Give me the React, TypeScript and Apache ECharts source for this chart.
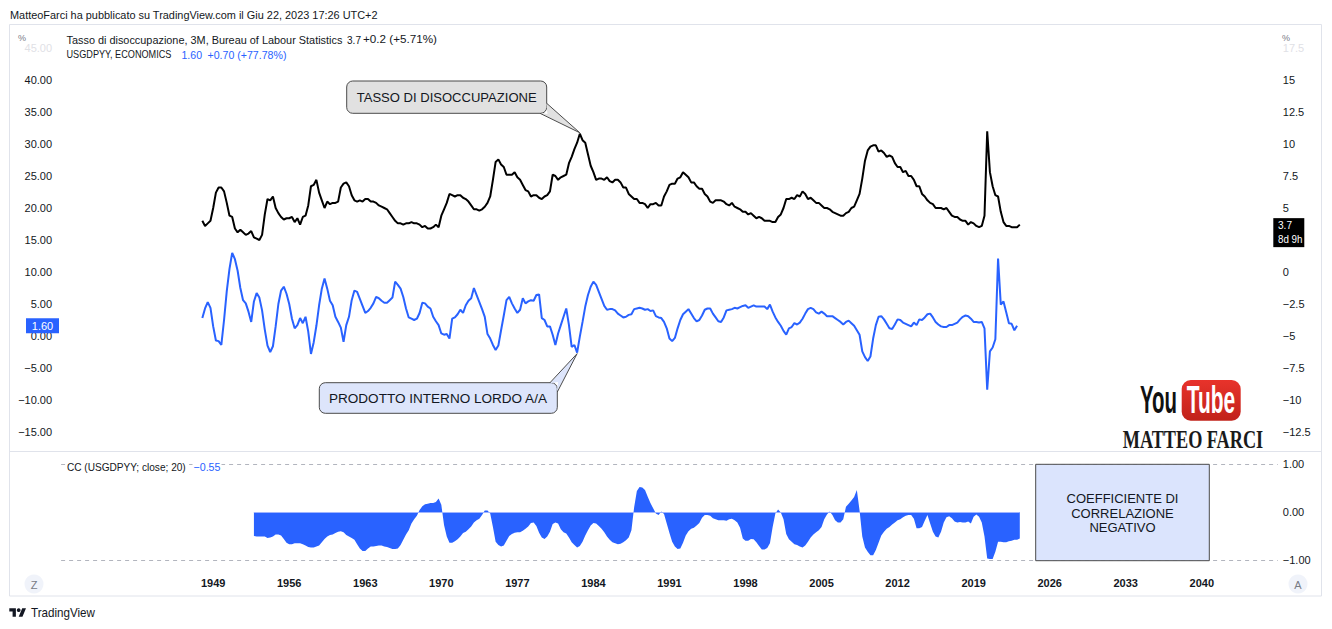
import React, { useEffect, useRef } from "react";
import * as echarts from "echarts";

// ---------------- DATA ----------------
const FIRST_YEAR = 1948; // first quarter of the series = 1948 Q1
const AXIS_BASE_YEAR = 1949;
const YEAR_TICKS = [1949, 1956, 1963, 1970, 1977, 1984, 1991, 1998, 2005, 2012, 2019, 2026, 2033, 2040];
const LEFT_TICKS = [-15, -10, -5, 0, 5, 10, 15, 20, 25, 30, 35, 40];
const LEFT_FADED = [45];
const RIGHT_TICKS = [-12.5, -10, -7.5, -5, -2.5, 0, 5, 7.5, 10, 12.5, 15];
const RIGHT_FADED = [17.5];
const CC_TICKS = [-1, 0, 1];

// Tasso di disoccupazione (%), quarterly close
const UNEMPLOYMENT: number[] = [
  4.0, 3.6, 3.8, 4.0, // 1948
  5.0, 6.2, 6.6, 6.6,
  6.3, 5.4, 4.4, 4.3, // 1950
  3.4, 3.1, 3.3, 3.1,
  2.9, 3.0, 3.2, 2.7,
  2.6, 2.5, 2.9, 4.5,
  5.7, 5.6, 5.9, 5.0,
  4.6, 4.3, 4.1, 4.2, // 1955
  4.2, 4.3, 3.9, 4.2,
  3.7, 4.3, 4.4, 5.2,
  6.7, 6.8, 7.2, 6.2,
  5.6, 5.0, 5.5, 5.3,
  5.4, 5.4, 5.5, 6.6, // 1960
  6.9, 7.0, 6.7, 6.0,
  5.6, 5.5, 5.6, 5.5,
  5.7, 5.7, 5.5, 5.5,
  5.4, 5.2, 5.1, 5.0,
  4.9, 4.6, 4.3, 4.0, // 1965
  3.8, 3.8, 3.7, 3.8,
  3.8, 3.9, 3.8, 3.8,
  3.7, 3.5, 3.6, 3.4,
  3.4, 3.5, 3.7, 3.5,
  4.4, 4.9, 5.4, 6.1, // 1970
  6.0, 5.9, 6.0, 6.0,
  5.8, 5.7, 5.5, 5.2,
  4.9, 4.9, 4.8, 4.9,
  5.1, 5.4, 5.9, 7.2,
  8.6, 8.8, 8.4, 8.2, // 1975
  7.6, 7.6, 7.6, 7.8,
  7.4, 7.2, 6.8, 6.4,
  6.3, 5.9, 6.0, 6.0,
  5.8, 5.7, 5.9, 6.0,
  6.3, 7.6, 7.5, 7.2, // 1980
  7.4, 7.5, 7.6, 8.5,
  9.0, 9.6, 10.1, 10.8,
  10.3, 10.1, 9.2, 8.3,
  7.8, 7.2, 7.3, 7.3,
  7.2, 7.4, 7.1, 7.0, // 1985
  7.2, 7.2, 7.0, 6.6,
  6.6, 6.1, 5.9, 5.7,
  5.7, 5.4, 5.4, 5.3,
  5.0, 5.3, 5.3, 5.4,
  5.2, 5.2, 5.9, 6.3, // 1990
  6.8, 6.9, 6.9, 7.3,
  7.4, 7.8, 7.6, 7.4,
  7.0, 7.0, 6.7, 6.5,
  6.5, 6.1, 5.9, 5.5,
  5.4, 5.6, 5.6, 5.6, // 1995
  5.5, 5.3, 5.2, 5.4,
  5.1, 5.0, 4.9, 4.7,
  4.7, 4.5, 4.6, 4.4,
  4.2, 4.3, 4.2, 4.0,
  4.0, 4.0, 3.9, 3.9, // 2000
  4.3, 4.5, 5.0, 5.7,
  5.7, 5.8, 5.7, 6.0,
  5.9, 6.3, 6.1, 5.7,
  5.8, 5.6, 5.4, 5.4,
  5.2, 5.0, 5.0, 4.9, // 2005
  4.7, 4.6, 4.5, 4.4,
  4.4, 4.6, 4.7, 5.0,
  5.1, 5.6, 6.1, 7.3,
  8.7, 9.5, 9.8, 9.9,
  9.9, 9.4, 9.5, 9.3, // 2010
  9.0, 9.1, 9.0, 8.5,
  8.2, 8.2, 7.8, 7.9,
  7.5, 7.5, 7.2, 6.7,
  6.7, 6.1, 5.9, 5.6,
  5.4, 5.3, 5.0, 5.0, // 2015
  5.0, 4.9, 5.0, 4.7,
  4.4, 4.3, 4.3, 4.1,
  4.0, 4.0, 3.7, 3.9,
  3.8, 3.6, 3.5, 3.6,
  4.4, 11.0, 7.8, 6.7, // 2020
  6.0, 5.9, 4.7, 3.9,
  3.6, 3.6, 3.5, 3.5,
  3.5, 3.7, // 2023
];

// USGDPYY (%), quarterly
const GDP_YOY: number[] = [
  2.8, 4.3, 5.3, 4.4, // 1948
  1.5, -0.7, -0.8, -1.4,
  2.5, 7.0, 10.5, 13.0, // 1950
  12.0, 10.2, 7.5, 5.6,
  5.1, 3.8, 2.2, 5.4,
  6.7, 6.0, 4.0, 1.0,
  -1.5, -2.5, -1.6, 1.5,
  5.0, 7.1, 7.7, 6.6, // 1955
  5.0, 2.7, 1.2, 1.7,
  2.8, 2.0, 3.0, 0.7,
  -2.8, -1.0, 1.6, 4.8,
  7.4, 9.0, 7.4, 5.5,
  4.8, 3.0, 2.2, 1.3, // 1960
  -0.9, 1.7, 3.0, 5.6,
  7.1, 6.9, 5.8, 4.7,
  3.6, 3.9, 4.4, 5.1,
  6.1, 5.9, 5.5, 5.2,
  5.2, 5.6, 6.0, 8.5, // 1965
  8.0, 7.4, 6.1, 4.3,
  2.9, 2.7, 2.5, 2.7,
  3.6, 5.2, 5.1, 4.6,
  4.3, 3.0, 2.3, 1.7,
  0.4, 0.2, 0.3, -0.4, // 1970
  2.7, 2.9, 3.4, 4.1,
  3.6, 4.8, 5.5, 5.9,
  7.5, 6.4, 5.3, 4.2,
  3.0, 0.3, -0.4, -1.4,
  -2.2, -1.5, 0.9, 3.2, // 1975
  5.6, 6.1, 5.1, 4.3,
  3.6, 4.1, 5.9, 5.1,
  5.4, 5.6, 5.5, 6.4,
  6.5, 2.8, 2.5, 1.5,
  1.5, 0.2, -1.4, 0.4, // 1980
  1.7, 3.0, 4.3, 1.7,
  -1.7, -1.4, -2.6, -0.1,
  2.2, 4.6, 6.4, 7.7,
  8.5, 8.0, 6.9, 5.8,
  4.7, 4.1, 4.2, 4.2, // 1985
  4.0, 3.5, 3.2, 2.9,
  3.0, 3.3, 3.4, 4.2,
  4.3, 4.4, 4.3, 4.1,
  4.2, 3.9, 4.0, 3.1,
  2.9, 2.8, 2.2, 1.2, // 1990
  -0.4, -0.8, -0.3, 1.2,
  2.5, 3.4, 3.8, 4.2,
  3.5, 2.8, 2.3, 2.5,
  3.2, 4.1, 4.3, 4.3,
  3.5, 2.9, 2.3, 2.2, // 1995
  2.9, 4.0, 4.1, 4.2,
  4.4, 4.3, 4.5, 4.7,
  4.8, 4.4, 4.6, 4.8,
  4.6, 4.6, 4.6, 4.6,
  4.2, 4.9, 3.8, 2.9, // 2000
  2.2, 1.6, 0.8, 0.2,
  1.2, 1.4, 2.0, 1.8,
  2.1, 2.7, 3.5, 4.2,
  4.4, 4.2, 3.7, 3.5,
  3.8, 3.5, 3.1, 3.1, // 2005
  3.1, 2.8, 2.5, 2.2,
  1.8, 2.2, 2.4, 2.0,
  1.6, 0.9, 0.2, -2.4,
  -3.3, -3.9, -3.2, -0.4,
  1.7, 3.0, 3.1, 2.6, // 2010
  1.9, 1.2, 1.1, 1.8,
  2.6, 2.5, 2.1, 1.9,
  1.7, 1.5, 2.1, 1.7,
  2.6, 2.5, 2.9, 3.4,
  3.5, 2.9, 2.2, 1.8, // 2015
  1.5, 1.4, 1.4, 1.7,
  1.7, 1.9, 2.1, 2.6,
  3.0, 3.2, 3.1, 2.7,
  2.2, 2.2, 2.1, 2.2,
  1.2, -8.4, -2.4, -1.8, // 2020
  -0.5, 12.1, 4.9, 5.4,
  3.7, 2.0, 1.9, 0.9,
  1.6, // 2023
];

// CC (USGDPYY; close; 20), first value at 1952 Q4 (quarter index 19)
const CC_FIRST_INDEX = 19;
const CC_VALUES: number[] = [
  -0.50, // 1952 Q4
  -0.51, -0.51, -0.51, -0.51, // 1953
  -0.54, -0.53, -0.51, -0.47,
  -0.47, -0.49, -0.56, -0.64, // 1955
  -0.67, -0.67, -0.65, -0.65,
  -0.65, -0.67, -0.70, -0.73,
  -0.74, -0.74, -0.72, -0.70,
  -0.63, -0.56, -0.51, -0.48,
  -0.47, -0.44, -0.41, -0.40, // 1960
  -0.42, -0.48, -0.51, -0.54,
  -0.58, -0.67, -0.76, -0.81,
  -0.81, -0.76, -0.72, -0.72,
  -0.71, -0.70, -0.70, -0.72,
  -0.73, -0.75, -0.77, -0.77, // 1965
  -0.76, -0.69, -0.58, -0.47,
  -0.38, -0.24, -0.15, -0.08,
  0.04, 0.12, 0.16, 0.17,
  0.19, 0.19, 0.21, 0.28,
  0.15, -0.27, -0.51, -0.64, // 1970
  -0.64, -0.61, -0.57, -0.51,
  -0.44, -0.41, -0.36, -0.30,
  -0.22, -0.17, -0.14, -0.06,
  0.03, 0.03, -0.03, -0.31,
  -0.62, -0.69, -0.72, -0.70, // 1975
  -0.60, -0.50, -0.46, -0.43,
  -0.42, -0.42, -0.39, -0.35,
  -0.30, -0.23, -0.22, -0.29,
  -0.43, -0.53, -0.56, -0.51,
  -0.41, -0.25, -0.22, -0.24, // 1980
  -0.36, -0.42, -0.45, -0.53,
  -0.63, -0.69, -0.74, -0.71,
  -0.62, -0.49, -0.38, -0.28,
  -0.23, -0.24, -0.29, -0.35,
  -0.42, -0.51, -0.58, -0.63, // 1985
  -0.65, -0.67, -0.66, -0.63,
  -0.59, -0.53, -0.38, 0.10,
  0.44, 0.52, 0.51, 0.46,
  0.32, 0.19, 0.08, -0.03,
  -0.06, 0.01, -0.04, -0.24, // 1990
  -0.44, -0.62, -0.72, -0.77,
  -0.76, -0.64, -0.49, -0.40,
  -0.35, -0.33, -0.28, -0.23,
  -0.12, -0.06, -0.06, -0.08,
  -0.13, -0.15, -0.17, -0.17, // 1995
  -0.17, -0.18, -0.15, -0.14,
  -0.17, -0.22, -0.33, -0.55,
  -0.60, -0.60, -0.56, -0.57,
  -0.63, -0.71, -0.78, -0.78,
  -0.75, -0.65, -0.31, -0.03, // 2000
  0.05, -0.01, -0.15, -0.46,
  -0.57, -0.62, -0.67, -0.69,
  -0.72, -0.74, -0.70, -0.62,
  -0.53, -0.47, -0.42, -0.38,
  -0.31, -0.15, -0.05, 0.01, // 2005
  -0.06, -0.17, -0.22, -0.22,
  -0.15, 0.11, 0.17, 0.24,
  0.31, 0.46, 0.03, -0.51,
  -0.74, -0.83, -0.90, -0.90,
  -0.79, -0.64, -0.49, -0.41, // 2010
  -0.35, -0.31, -0.26, -0.22,
  -0.17, -0.15, -0.11, -0.08,
  -0.06, -0.06, -0.14, -0.34,
  -0.34, -0.31, -0.18, -0.06,
  -0.24, -0.41, -0.51, -0.53, // 2015
  -0.41, -0.22, -0.11, -0.09,
  -0.13, -0.20, -0.22, -0.21,
  -0.22, -0.22, -0.20, -0.24,
  -0.10, -0.05, -0.10, -0.22,
  -0.51, -0.97, -0.98, -0.98, // 2020
  -0.83, -0.62, -0.62, -0.63,
  -0.63, -0.61, -0.60, -0.58,
  -0.58, -0.55, // 2023
];

// --------------- STYLE ---------------
const FONT = '"Liberation Sans", Arial, Helvetica, sans-serif';
const SERIF = '"Liberation Serif", "Times New Roman", serif';
const TEXT = "#131722";
const BLUE = "#2962ff";
const MINUS = "\u2212";

echarts.graphic.registerShape(
  "tvlogo",
  echarts.graphic.extendPath("M14 22H7V11H0V4h14v18zM28 22h-8l7.5-18h8L28 22z", {})
);

const quarterX = (index: number) => FIRST_YEAR + index / 4 - AXIS_BASE_YEAR;
const minus = (s: string) => s.replace("-", MINUS);

const unData = UNEMPLOYMENT.map((v, i) => [quarterX(i), v]);
const gdpData = GDP_YOY.map((v, i) => [quarterX(i), v]);
const ccData = CC_VALUES.map((v, i) => [quarterX(i + CC_FIRST_INDEX), v]);

const hidden = { show: false };

let measureCtx: CanvasRenderingContext2D | null = null;
function measure(text: string, size: number, weight: string, family: string): number {
  if (!measureCtx) measureCtx = document.createElement("canvas").getContext("2d");
  if (!measureCtx) return 0;
  measureCtx.font = `${weight} ${size}px ${family}`;
  return measureCtx.measureText(text).width;
}

function buildOption(): any {
  const labelBase = { fontFamily: FONT, fontSize: 11, color: TEXT };
  return {
    animation: false,
    backgroundColor: "#ffffff",
    grid: [
      { left: 61.1, right: 54.2, top: 16, height: 448 },
      { left: 61.1, right: 54.2, top: 464, height: 96 },
    ],
    xAxis: [
      { type: "value", gridIndex: 0, min: -14, max: 98, show: false },
      {
        type: "value",
        gridIndex: 1,
        min: -14,
        max: 98,
        interval: 7,
        axisLine: hidden,
        axisTick: hidden,
        splitLine: hidden,
        axisLabel: {
          ...labelBase,
          fontWeight: "bold",
          margin: 17,
          formatter: (v: number) =>
            YEAR_TICKS.includes(AXIS_BASE_YEAR + v) ? String(AXIS_BASE_YEAR + v) : "",
        },
      },
    ],
    yAxis: [
      {
        type: "value",
        gridIndex: 0,
        position: "left",
        min: -20,
        max: 50,
        interval: 5,
        axisLine: hidden,
        axisTick: hidden,
        splitLine: hidden,
        axisLabel: {
          ...labelBase,
          margin: 9,
          rich: { f: { fontFamily: FONT, fontSize: 11, color: "#dfe1e6" } },
          formatter: (v: number) =>
            LEFT_TICKS.includes(v)
              ? minus(v.toFixed(2))
              : LEFT_FADED.includes(v)
              ? `{f|${v.toFixed(2)}}`
              : "",
        },
      },
      {
        type: "value",
        gridIndex: 0,
        position: "right",
        min: -15,
        max: 20,
        interval: 2.5,
        axisLine: hidden,
        axisTick: hidden,
        splitLine: hidden,
        axisLabel: {
          ...labelBase,
          margin: 5,
          rich: { f: { fontFamily: FONT, fontSize: 11, color: "#dfe1e6" } },
          formatter: (v: number) =>
            RIGHT_TICKS.includes(v)
              ? minus(String(v))
              : RIGHT_FADED.includes(v)
              ? `{f|${v}}`
              : "",
        },
      },
      {
        type: "value",
        gridIndex: 1,
        position: "right",
        min: -1,
        max: 1,
        interval: 1,
        axisLine: hidden,
        axisTick: hidden,
        splitLine: hidden,
        axisLabel: {
          ...labelBase,
          margin: 5,
          formatter: (v: number) => (CC_TICKS.includes(v) ? minus(v.toFixed(2)) : ""),
        },
      },
    ],
    series: [
      {
        type: "line",
        name: "USGDPYY",
        xAxisIndex: 0,
        yAxisIndex: 0,
        data: gdpData,
        symbol: "none",
        lineStyle: { color: BLUE, width: 2 },
        z: 3,
      },
      {
        type: "line",
        name: "Tasso di disoccupazione",
        xAxisIndex: 0,
        yAxisIndex: 1,
        data: unData,
        symbol: "none",
        lineStyle: { color: "#000000", width: 2 },
        z: 4,
      },
      {
        type: "line",
        name: "CC",
        xAxisIndex: 1,
        yAxisIndex: 2,
        data: ccData,
        symbol: "none",
        lineStyle: { width: 0, color: BLUE },
        areaStyle: { color: BLUE, opacity: 1 },
        z: 3,
        markLine: {
          silent: true,
          symbol: "none",
          label: { show: false },
          emphasis: { disabled: true },
          data: [
            { yAxis: 1, lineStyle: { color: "#b2b5be", type: [4, 4], width: 1 } },
            { yAxis: -1, lineStyle: { color: "#b2b5be", type: [4, 4], width: 1 } },
            [
              { coord: [ccData[0][0], 0], lineStyle: { color: "#9fb4ff", type: "solid", width: 1 } },
              { coord: [ccData[ccData.length - 1][0], 0], lineStyle: { color: "#9fb4ff", type: "solid", width: 1 } },
            ],
          ],
        },
      },
    ],
  };
}

// text element; o.width fits the text to a given pixel width (horizontal scale)
function txt(x: number, y: number, text: string, o: any = {}): any {
  const align = o.align || "left";
  const size = o.fontSize || 11;
  const weight = o.fontWeight || "normal";
  const family = o.fontFamily || FONT;
  let scaleX = o.scaleX || 1;
  if (o.width) {
    const w = measure(text, size, weight, family);
    if (w > 0) scaleX = o.width / w;
  }
  return {
    type: "text",
    x,
    y,
    z: 100,
    silent: true,
    scaleX,
    style: {
      text,
      fill: o.fill || TEXT,
      fontFamily: family,
      fontSize: size,
      fontWeight: weight,
      align,
      textAlign: align,
      verticalAlign: "middle",
      textVerticalAlign: "middle",
      lineHeight: o.lineHeight,
      backgroundColor: o.backgroundColor,
      padding: o.padding,
    },
  };
}

function buildGraphics(chart: any): any[] {
  const unTipIdx = (1982 - FIRST_YEAR) * 4 + 3;
  const gdpTipIdx = (1982 - FIRST_YEAR) * 4 + 2;
  const t1 = chart.convertToPixel({ seriesIndex: 1 }, unData[unTipIdx]);
  const t2 = chart.convertToPixel({ seriesIndex: 0 }, gdpData[gdpTipIdx]);
  const unLast = chart.convertToPixel({ seriesIndex: 1 }, unData[unData.length - 1]);
  const gdpLast = chart.convertToPixel({ seriesIndex: 0 }, gdpData[gdpData.length - 1]);
  const tip1 = [t1[0], t1[1] - 1];
  const tip2 = [t2[0], t2[1] + 1];

  const g: any[] = [];
  // frame
  g.push({ type: "rect", z: 100, silent: true, shape: { x: 9.5, y: 24.5, width: 1312, height: 571.5 }, style: { fill: "none", stroke: "#e0e3eb", lineWidth: 1 } });
  g.push({ type: "line", z: 100, silent: true, shape: { x1: 9.5, y1: 451.5, x2: 1321.5, y2: 451.5 }, style: { stroke: "#e0e3eb", lineWidth: 1 } });

  // header
  g.push(txt(10, 14.5, "MatteoFarci ha pubblicato su TradingView.com il Giu 22, 2023 17:26 UTC+2", { fontSize: 11.5, width: 368 }));

  // legends
  g.push(txt(66.5, 39.5, "Tasso di disoccupazione, 3M, Bureau of Labour Statistics", { width: 276 }));
  g.push(txt(347, 39.5, "3.7", { width: 14 }));
  g.push(txt(363, 39.5, "+0.2 (+5.71%)", { width: 74 }));
  g.push(txt(66.5, 54.5, "USGDPYY, ECONOMICS", { width: 105 }));
  g.push(txt(181.5, 54.5, "1.60", { fill: BLUE, width: 20.5 }));
  g.push(txt(207.5, 54.5, "+0.70 (+77.78%)", { fill: BLUE, width: 79 }));
  g.push(txt(18, 37.5, "%", { fontSize: 9, fill: "#787b86" }));
  g.push(txt(1282, 37.5, "%", { fontSize: 9, fill: "#787b86" }));

  // callout 1: TASSO DI DISOCCUPAZIONE
  const c1 = { x: 346.7, y: 81, w: 200, h: 32.3 };
  g.push({ type: "rect", z: 100, silent: true, shape: { x: c1.x, y: c1.y, width: c1.w, height: c1.h, r: 6 }, style: { fill: "#e1e1e1", stroke: "#4a4a4a", lineWidth: 1 } });
  g.push({ type: "polygon", z: 101, silent: true, shape: { points: [[540, c1.y + c1.h - 0.5], tip1, [c1.x + c1.w - 0.5, 103.3], [c1.x + c1.w + 0.8, c1.y + c1.h + 0.8]] }, style: { fill: "#e1e1e1" } });
  g.push({ type: "polyline", z: 102, silent: true, shape: { points: [[540, c1.y + c1.h], tip1, [c1.x + c1.w, 103.3]] }, style: { stroke: "#4a4a4a", lineWidth: 1, fill: "none" } });
  g.push(txt(c1.x + 10, c1.y + c1.h / 2 + 0.5, "TASSO DI DISOCCUPAZIONE", { fontSize: 13, width: 180 }));

  // callout 2: PRODOTTO INTERNO LORDO A/A
  const c2 = { x: 319.3, y: 382.7, w: 238, h: 30.6 };
  g.push({ type: "rect", z: 100, silent: true, shape: { x: c2.x, y: c2.y, width: c2.w, height: c2.h, r: 6 }, style: { fill: "#dde5fb", stroke: "#4a4a4a", lineWidth: 1 } });
  g.push({ type: "polygon", z: 101, silent: true, shape: { points: [[550, c2.y + 0.5], tip2, [c2.x + c2.w - 0.5, 392], [c2.x + c2.w + 0.8, c2.y - 0.8]] }, style: { fill: "#dde5fb" } });
  g.push({ type: "polyline", z: 102, silent: true, shape: { points: [[550, c2.y], tip2, [c2.x + c2.w, 392]] }, style: { stroke: "#4a4a4a", lineWidth: 1, fill: "none" } });
  g.push(txt(c2.x + 9.7, c2.y + c2.h / 2 + 0.5, "PRODOTTO INTERNO LORDO A/A", { fontSize: 13, width: 219 }));

  // last value tags
  g.push({ type: "rect", z: 100, silent: true, shape: { x: 26, y: gdpLast[1] - 7.5, width: 33, height: 15 }, style: { fill: BLUE } });
  g.push(txt(42.5, gdpLast[1], "1.60", { align: "center", fill: "#ffffff" }));
  g.push({ type: "rect", z: 100, silent: true, shape: { x: 1273.3, y: unLast[1] - 6.5, width: 31, height: 29 }, style: { fill: "#000000" } });
  g.push(txt(1278, unLast[1] + 0.5, "3.7", { fill: "#ffffff", width: 14 }));
  g.push(txt(1278, unLast[1] + 14.5, "8d 9h", { fill: "#ffffff", width: 24.5 }));

  // YouTube logo + name
  g.push(txt(1140, 399.5, "You", { fontSize: 39, fontWeight: "bold", fill: "#111111", width: 37 }));
  g.push({
    type: "rect", z: 100, silent: true,
    shape: { x: 1181.7, y: 380, width: 59, height: 40.7, r: 9 },
    style: { fill: new echarts.graphic.LinearGradient(0, 0, 0, 1, [{ offset: 0, color: "#e8332b" }, { offset: 1, color: "#c1221a" }]) },
  });
  g.push(txt(1186.7, 399.5, "Tube", { fontSize: 39, fontWeight: "bold", fill: "#ffffff", width: 48.5 }));
  g.push(txt(1122.7, 440.5, "MATTEO FARCI", { fontSize: 25, fontWeight: "bold", fontFamily: SERIF, fill: "#1a1a1a", width: 140.6 }));

  // lower pane legend
  g.push(txt(66, 466.5, "CC (USGDPYY; close; 20)", { backgroundColor: "#ffffff", padding: [1, 1], width: 119 }));
  g.push(txt(192.5, 466.5, minus("-0.55"), { fill: BLUE, backgroundColor: "#ffffff", padding: [1, 1], width: 27 }));

  // correlation box
  g.push({ type: "rect", z: 100, silent: true, shape: { x: 1035.7, y: 464.3, width: 173.6, height: 96.4 }, style: { fill: "#dbe4fd", stroke: "#4a4a4a", lineWidth: 1 } });
  g.push(txt(1122.5, 513, "COEFFICIENTE DI\nCORRELAZIONE\nNEGATIVO", { align: "center", fontSize: 13, lineHeight: 14.5 }));

  // Z / A buttons
  g.push({ type: "circle", z: 100, silent: true, shape: { cx: 34, cy: 584, r: 9.5 }, style: { fill: "#f0f3fa" } });
  g.push(txt(34, 584.5, "Z", { align: "center", fill: "#787b86" }));
  g.push({ type: "circle", z: 100, silent: true, shape: { cx: 1298, cy: 584, r: 9.5 }, style: { fill: "#f0f3fa" } });
  g.push(txt(1298, 584.5, "A", { align: "center", fill: "#787b86" }));

  // footer logo
  g.push({ type: "tvlogo", z: 100, silent: true, x: 9.3, y: 606.4, scaleX: 0.47, scaleY: 0.47, style: { fill: TEXT } });
  g.push({ type: "circle", z: 100, silent: true, shape: { cx: 9.3 + 20 * 0.47, cy: 606.4 + 8 * 0.47, r: 1.9 }, style: { fill: TEXT } });
  g.push(txt(31, 613, "TradingView", { fontSize: 12, width: 64 }));
  return g;
}

export default function App() {
  const ref = useRef<HTMLDivElement>(null);
  useEffect(() => {
    if (!ref.current) return;
    const chart = echarts.init(ref.current, undefined, { renderer: "svg" });
    chart.setOption(buildOption());
    chart.setOption({ graphic: { elements: buildGraphics(chart) } });
    return () => chart.dispose();
  }, []);
  return (
    <div
      ref={ref}
      style={{ position: "fixed", left: 0, top: 0, width: 1332, height: 629, background: "#ffffff" }}
    />
  );
}
